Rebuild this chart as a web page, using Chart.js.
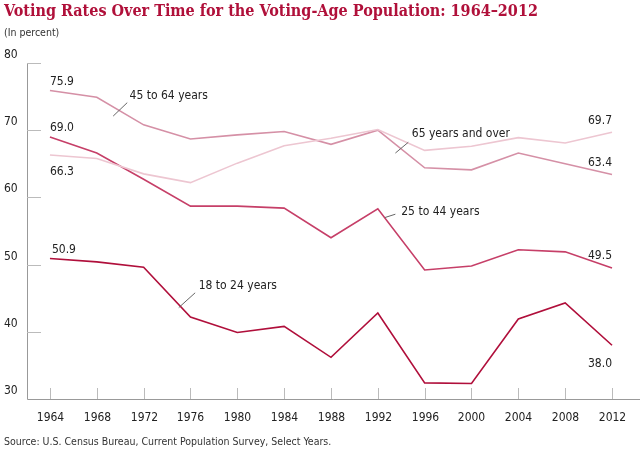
<!DOCTYPE html>
<html><head><meta charset="utf-8">
<script src="https://cdn.jsdelivr.net/npm/chart.js@4"></script>
<style>
body{margin:0;width:640px;height:453px;background:#fff;position:relative;overflow:hidden;font-family:"DejaVu Sans Condensed","DejaVu Sans",sans-serif}
#title{position:absolute;left:4px;top:1px;color:#b0103a;font:bold 16px "DejaVu Serif Condensed","DejaVu Serif",serif;white-space:nowrap}
#sub{position:absolute;left:4px;top:26px;font-size:10.5px;color:#333}
#src{position:absolute;left:4px;top:435px;font-size:10.5px;color:#333}
#wrap{position:absolute;left:0;top:0;width:640px;height:453px}
</style></head><body>
<div id="wrap"><canvas id="c"></canvas></div>
<div id="title">Voting Rates Over Time for the Voting-Age Population: 1964–2012</div>
<div id="sub">(In percent)</div>
<div id="src">Source: U.S. Census Bureau, Current Population Survey, Select Years.</div>
<script>
// === ДАННЫЕ ===
const years = [1964, 1968, 1972, 1976, 1980, 1984, 1988, 1992, 1996, 2000, 2004, 2008, 2012];
const age18to24 = [50.9, 50.4, 49.6, 42.2, 39.9, 40.8, 36.2, 42.8, 32.4, 32.3, 41.9, 44.3, 38.0];
const age25to44 = [69.0, 66.6, 62.7, 58.7, 58.7, 58.4, 54.0, 58.3, 49.2, 49.8, 52.2, 51.9, 49.5];
const age45to64 = [75.9, 74.9, 70.8, 68.7, 69.3, 69.8, 67.9, 70.0, 64.4, 64.1, 66.6, 65.0, 63.4];
const age65plus = [66.3, 65.8, 63.5, 62.2, 65.1, 67.7, 68.8, 70.1, 67.0, 67.6, 68.9, 68.1, 69.7];
const yTicks = [30, 40, 50, 60, 70, 80];

const pts = arr => arr.map((v, i) => ({ x: years[i], y: v }));
const ds = (label, arr, color) => ({ label, data: pts(arr), borderColor: color, borderWidth: 1.6, pointRadius: 0, tension: 0 });

// === ОФОРМЛЕНИЕ: оси, подписи ===
const decor = {
  id: 'decor',
  afterDraw(chart) {
    const { ctx, chartArea: a, scales: { x, y } } = chart;
    ctx.save();
    ctx.strokeStyle = '#999'; ctx.lineWidth = 1;
    ctx.beginPath();
    ctx.moveTo(a.left + 0.5, a.top); ctx.lineTo(a.left + 0.5, a.bottom + 0.5); ctx.lineTo(a.right, a.bottom + 0.5);
    ctx.stroke();
    ctx.strokeStyle = '#bbb';
    ctx.font = '12px "DejaVu Sans Condensed", "DejaVu Sans", sans-serif';
    ctx.fillStyle = '#222';
    yTicks.forEach(t => {
      const py = Math.round(y.getPixelForValue(t)) + 0.5;
      if (t > 30) { ctx.beginPath(); ctx.moveTo(a.left, py); ctx.lineTo(a.left + 14, py); ctx.stroke(); }
      ctx.textAlign = 'left'; ctx.textBaseline = 'alphabetic';
      ctx.fillText(String(t), 4, py - 6);
    });
    years.forEach(yr => {
      const px = Math.round(x.getPixelForValue(yr)) + 0.5;
      ctx.beginPath(); ctx.moveTo(px, a.bottom - 11); ctx.lineTo(px, a.bottom); ctx.stroke();
      ctx.textAlign = 'center'; ctx.fillText(String(yr), px, a.bottom + 22);
    });
    // значения на концах
    const x0 = x.getPixelForValue(years[0]), x1 = x.getPixelForValue(years[years.length - 1]);
    const val = (txt, px, v, dy, align) => { ctx.textAlign = align; ctx.fillText(txt, px, y.getPixelForValue(v) + dy); };
    val(age45to64[0].toFixed(1), x0, age45to64[0], -6, 'left');
    val(age25to44[0].toFixed(1), x0, age25to44[0], -6, 'left');
    val(age65plus[0].toFixed(1), x0, age65plus[0], 20, 'left');
    val(age18to24[0].toFixed(1), x0 + 2, age18to24[0], -6, 'left');
    val(age65plus[12].toFixed(1), x1, age65plus[12], -8, 'right');
    val(age45to64[12].toFixed(1), x1, age45to64[12], -9, 'right');
    val(age25to44[12].toFixed(1), x1, age25to44[12], -9, 'right');
    val(age18to24[12].toFixed(1), x1, age18to24[12], 22, 'right');
    // названия серий с выносками
    const lab = (txt, tx, tv, lx0, lv0, lx1, lv1) => {
      ctx.textAlign = 'left';
      ctx.fillText(txt, x.getPixelForValue(tx), y.getPixelForValue(tv));
      ctx.strokeStyle = '#666';
      ctx.beginPath(); ctx.moveTo(x.getPixelForValue(lx0), y.getPixelForValue(lv0)); ctx.lineTo(x.getPixelForValue(lx1), y.getPixelForValue(lv1)); ctx.stroke();
    };
    lab('45 to 64 years', 1970.8, 74.6, 1970.6, 74.1, 1969.4, 72.1);
    lab('65 years and over', 1994.9, 69.0, 1994.6, 68.2, 1993.5, 66.6);
    lab('25 to 44 years', 1994.0, 57.4, 1993.5, 57.5, 1992.6, 57.0);
    lab('18 to 24 years', 1976.7, 46.3, 1976.4, 45.8, 1975.0, 43.6);
    ctx.restore();
  }
};

new Chart(document.getElementById('c'), {
  type: 'line',
  data: {
    datasets: [
      ds('65 years and over', age65plus, '#edc6d1'),
      ds('45 to 64 years', age45to64, '#d590a6'),
      ds('25 to 44 years', age25to44, '#c63f68'),
      ds('18 to 24 years', age18to24, '#b00f3b')
    ]
  },
  options: {
    responsive: true, maintainAspectRatio: false, animation: false,
    layout: { padding: { left: 27, right: 0, top: 63, bottom: 54 } },
    plugins: { legend: { display: false }, tooltip: { enabled: false } },
    scales: {
      x: { type: 'linear', min: 1962.04, max: 2014.39, display: false },
      y: { min: 30, max: 80, display: false }
    }
  },
  plugins: [decor]
});
</script>
</body></html>
